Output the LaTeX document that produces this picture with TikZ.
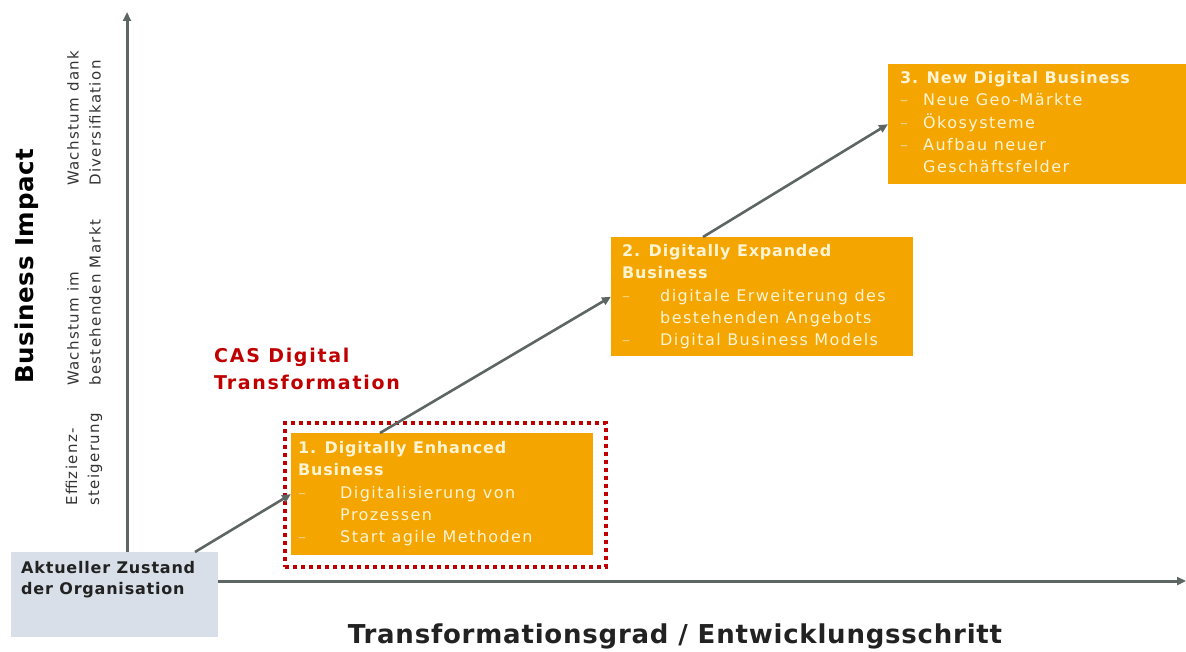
\documentclass[tikz,border=0pt]{standalone}
\usepackage{fontspec}
\setmainfont{DejaVu Sans}[LetterSpace=3]
\newfontfamily\boxfont{DejaVu Sans}[LetterSpace=9, BoldFeatures={LetterSpace=5}]
\newfontfamily\casfont{DejaVu Sans}[LetterSpace=9]
\usetikzlibrary{arrows.meta,calc}
\definecolor{org}{HTML}{F5A500}
\definecolor{cream}{HTML}{FFF4D4}
\definecolor{dashc}{HTML}{FAD27A}
\definecolor{gboxc}{HTML}{D8DFE8}
\definecolor{arrg}{HTML}{5E6663}
\definecolor{casred}{HTML}{C00000}
\definecolor{txtdark}{HTML}{222222}
\definecolor{lblgray}{HTML}{333333}
\newcommand{\dashi}[1]{\makebox[#1][l]{\textcolor{dashc}{–}}}
\tikzset{
  obox/.style={fill=org, draw=none, inner sep=0pt, anchor=north west},
  gbox/.style={fill=gboxc, draw=none, inner sep=0pt, anchor=north west},
  otext/.style={anchor=north west, align=left, text=cream, inner sep=0pt,
    font=\boxfont\fontsize{16}{22.4}\selectfont},
  conn/.style={draw=arrg, line width=2.6pt, -{Triangle[length=9pt,width=8pt]}},
  axis/.style={draw=arrg, line width=3pt, -{Triangle[length=9pt,width=8pt]}},
  casbox/.style={draw=casred, line width=4pt, dash pattern=on 4pt off 4pt, inner sep=0pt, anchor=north west},
  sidelbl/.style={rotate=90, anchor=west, align=left, inner sep=0pt, text=lblgray,
    font=\boxfont\fontsize{15}{22}\selectfont},
}
\begin{document}
\begin{tikzpicture}[x=1pt,y=-1pt]
\useasboundingbox (0,0) rectangle (1186,652);

% boxes
\node[gbox, minimum width=207pt, minimum height=85pt] (g) at (11,552) {};
\node[anchor=north west, align=left, inner sep=0pt, text=txtdark,
  font=\boxfont\bfseries\fontsize{16}{21}\selectfont] (gt) at (21,561)
  {Aktueller Zustand\\der Organisation};

\node[obox, minimum width=302pt, minimum height=122pt] (b1) at (291,433) {};
\node[casbox, minimum width=321pt, minimum height=144pt] (cas) at (283,421) {};
\node[otext] (t1) at (298,441)
  {\textbf{1. Digitally Enhanced}\\\textbf{Business}\\
   \dashi{42pt}Digitalisierung von\\\hspace*{42pt}Prozessen\\
   \dashi{42pt}Start agile Methoden};

\node[obox, minimum width=302pt, minimum height=119pt] (b2) at (611,237) {};
\node[otext] (t2) at (622,244)
  {\textbf{2. Digitally Expanded}\\\textbf{Business}\\
   \dashi{38pt}digitale Erweiterung des\\\hspace*{38pt}bestehenden Angebots\\
   \dashi{38pt}Digital Business Models};

\node[obox, minimum width=298pt, minimum height=120pt] (b3) at (888,64) {};
\node[otext] (t3) at (900,71)
  {\textbf{3. New Digital Business}\\
   \dashi{23pt}Neue Geo-Märkte\\
   \dashi{23pt}Ökosysteme\\
   \dashi{23pt}Aufbau neuer\\\hspace*{23pt}Geschäftsfelder};

% CAS label
\node[anchor=north west, align=left, inner sep=0pt, text=casred,
  font=\casfont\bfseries\fontsize{19}{27}\selectfont] (caslbl) at (214,348)
  {CAS Digital\\Transformation};

% axes
\coordinate (ybase) at ($(g.north west)+(116,0)$);
\coordinate (ytip) at (127,12);
\draw[axis] (ybase) -- (ytip);
\coordinate (xbase) at ($(g.north east)+(0,29)$);
\coordinate (xtip) at (1186,581);
\draw[axis] (xbase) -- (xtip);

% connectors
\coordinate (s1) at ($(g.north west)+(184,0)$);
\draw[conn] (s1) -- (b1.west);
\coordinate (s2) at ($(b1.north west)+(89,0)$);
\draw[conn] (s2) -- (b2.west);
\coordinate (s3) at ($(b2.north west)+(92,0)$);
\draw[conn] (s3) -- (b3.west);

% axis labels
\node[rotate=90, inner sep=0pt, text=black, font=\bfseries\fontsize{24.5}{30}\selectfont]
  (ylbl) at (27,266) {Business Impact};
\node[sidelbl] (l1) at (84,506) {Effizienz-\\steigerung};
\node[sidelbl] (l2) at (84,386) {Wachstum im\\bestehenden Markt};
\node[sidelbl] (l3) at (84,186) {Wachstum dank\\Diversifikation};
\node[inner sep=0pt, text=txtdark, font=\bfseries\fontsize{26}{30}\selectfont]
  (xlbl) at (675,636) {Transformationsgrad / Entwicklungsschritt};
\end{tikzpicture}
\end{document}
